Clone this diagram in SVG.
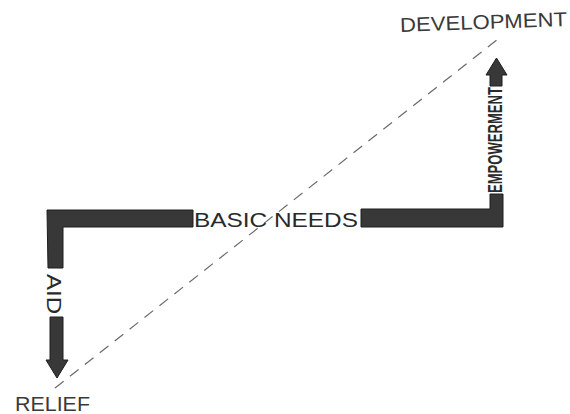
<svg xmlns="http://www.w3.org/2000/svg" width="570" height="414" viewBox="0 0 570 414">
<style>
.bar{fill:#383838;stroke:#1e1e1e;stroke-width:1}
.lbl{font-family:"Liberation Sans",Arial,sans-serif;fill:#2a2a2a}
.hand{font-family:"Liberation Sans",Arial,sans-serif;fill:#3a3a3a;font-weight:normal}
.dash{stroke:#6a6a6a;stroke-width:1.2;stroke-dasharray:11 8;fill:none}
</style>
<rect width="570" height="414" fill="#ffffff"/>
<g id="connectors">
<path class="dash" d="M55,388 L498,39"/>
</g>
<g id="relief">
<text class="hand" x="15" y="411" font-size="21" textLength="75" lengthAdjust="spacingAndGlyphs">RELIEF</text>
</g>
<g id="development">
<text class="hand" x="400" y="29" font-size="20" textLength="167" lengthAdjust="spacingAndGlyphs" transform="rotate(-2 483 22)">DEVELOPMENT</text>
</g>
<g id="aid">
<path class="bar" d="M47,210 L193,210 L193,227 L63,227 L63,268 L48,268 Z"/>
<text class="lbl" font-size="21" transform="translate(47,274) rotate(90)" textLength="40" lengthAdjust="spacingAndGlyphs">AID</text>
<path class="bar" d="M50,317 L63,317 L63,360 L68,360 L57,378 L46,360 L50,360 Z"/>
</g>
<g id="basic-needs">
<text class="lbl" x="194" y="227" font-size="21" textLength="164" lengthAdjust="spacingAndGlyphs">BASIC NEEDS</text>
</g>
<g id="empowerment">
<path class="bar" d="M361,209 L490,209 L490,194 L503,194 L503,227 L361,227 Z"/>
<text class="lbl" font-size="20" font-weight="bold" transform="translate(502,193) rotate(-90)" textLength="106" lengthAdjust="spacingAndGlyphs">EMPOWERMENT</text>
<path class="bar" d="M490,86 L502,86 L502,75 L507,75 L496.5,58 L486,75 L490,75 Z"/>
</g>
</svg>
